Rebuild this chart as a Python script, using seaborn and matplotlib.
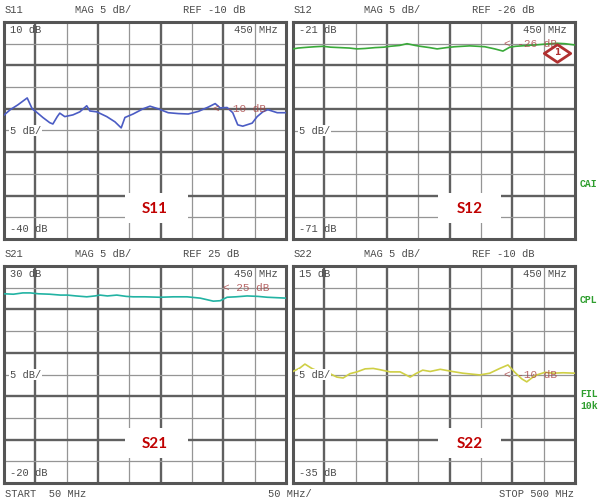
import matplotlib
matplotlib.use('Agg')
import matplotlib.pyplot as plt
import numpy as np
import pandas as pd
import seaborn as sns
from matplotlib.patches import Rectangle
from matplotlib.path import Path

# trace readings, frequency in MHz, level in dB
S11_FREQ = [50, 52, 60, 72, 87, 95, 103, 112, 123, 128, 135, 139, 147, 160, 171, 182, 187, 198,
            214, 227, 237, 243, 256, 272, 283, 296, 312, 328, 344, 360, 376, 387, 395, 406, 415,
            423, 431, 446, 454, 463, 471, 486, 500]
S11_DB = [-11.5, -11.2, -10.2, -9.1, -7.5, -10.0, -10.9, -12.0, -13.2, -13.5, -11.8, -11.0, -11.8,
          -11.4, -10.7, -9.3, -10.5, -10.7, -11.8, -13.0, -14.4, -12.0, -11.2, -10.0, -9.4, -10.0,
          -10.9, -11.1, -11.2, -10.6, -9.6, -8.8, -9.8, -9.7, -10.9, -13.7, -14.0, -13.3, -11.8,
          -10.7, -10.2, -10.9, -10.9]

S12_FREQ = [50, 58, 66, 75, 85, 98, 110, 125, 140, 152, 165, 181, 195, 205, 220, 232, 245, 253,
            268, 280, 295, 308, 320, 332, 345, 356, 372, 385, 396, 405, 415, 425, 436, 452, 471,
            484, 500]
S12_DB = [-27.2, -27.0, -26.9, -26.8, -26.7, -26.6, -26.8, -26.9, -27.0, -27.2, -27.1, -26.9,
          -26.8, -26.6, -26.4, -26.0, -26.4, -26.6, -26.9, -27.2, -26.9, -26.7, -26.6, -26.5,
          -26.6, -26.7, -27.2, -27.7, -26.8, -26.6, -26.5, -26.4, -26.3, -26.1, -25.9, -26.0,
          -26.3]

S21_FREQ = [50, 65, 80, 92, 105, 123, 140, 151, 165, 182, 195, 203, 215, 230, 245, 256, 275, 299,
            320, 342, 363, 375, 384, 395, 406, 420, 438, 455, 470, 485, 500]
S21_DB = [23.6, 23.5, 23.8, 23.8, 23.6, 23.5, 23.3, 23.3, 23.1, 22.9, 23.1, 23.3, 23.1, 23.3, 23.0,
          22.9, 22.9, 22.8, 22.9, 22.9, 22.6, 22.2, 21.9, 22.0, 22.8, 22.9, 23.1, 23.0, 22.8, 22.7,
          22.6]

S22_FREQ = [50, 61, 69, 80, 93, 109, 120, 130, 141, 152, 165, 178, 189, 205, 221, 237, 246, 257,
            269, 285, 304, 321, 348, 364, 380, 393, 404, 415, 423, 431, 439, 452, 465, 481, 500]
S22_DB = [-9.3, -8.5, -7.6, -8.6, -9.4, -9.8, -10.6, -10.8, -9.8, -9.4, -8.7, -8.6, -8.9, -9.4,
          -9.4, -10.6, -9.8, -9.0, -9.3, -8.8, -9.3, -9.7, -10.1, -9.7, -8.6, -7.8, -9.5, -11.0,
          -11.7, -10.8, -10.1, -9.5, -9.7, -9.6, -9.7]

MARKER_FREQ = 471
MARKER_DB = -28.1

PANELS = [
    dict(name='S11', top=10, ref=-10, freq=S11_FREQ, db=S11_DB, color='#4b5cc4',
         rect=(4, 22), box=(0.43, 0.074), lab=(0.535, 0.14), refx=0.74),
    dict(name='S12', top=-21, ref=-26, freq=S12_FREQ, db=S12_DB, color='#3aaa3a',
         rect=(293, 22), box=(0.514, 0.074), lab=(0.628, 0.14), refx=0.75),
    dict(name='S21', top=30, ref=25, freq=S21_FREQ, db=S21_DB, color='#22b3a3',
         rect=(4, 266), box=(0.43, 0.115), lab=(0.535, 0.18), refx=0.775),
    dict(name='S22', top=15, ref=-10, freq=S22_FREQ, db=S22_DB, color='#cfcf45',
         rect=(293, 266), box=(0.514, 0.115), lab=(0.628, 0.18), refx=0.75),
]

W, H = 604, 504
MONO = 'Liberation Mono'
GREY = '#4a4a4a'
REFC = '#a84444'

sns.set_style('white')
plt.rcParams['font.family'] = ['DejaVu Sans']

fig = plt.figure(figsize=(W / 100, H / 100), dpi=100)
fig.patch.set_facecolor('white')

for p in PANELS:
    x0, y0 = p['rect']
    ax = fig.add_axes([x0 / W, 1 - (y0 + 217) / H, 282 / W, 217 / H])
    lo = p['top'] - 50
    ax.set_xlim(50, 500)
    ax.set_ylim(lo, p['top'])
    ax.set_xticks([])
    ax.set_yticks([])
    for s in ax.spines.values():
        s.set_color('#555555')
        s.set_linewidth(2.2)

    # graticule, every other line drawn heavier
    for i, f in enumerate(np.arange(100, 500, 50)):
        heavy = i % 2 == 0
        ax.axvline(f, color='#606060' if heavy else '#959595', lw=1.7 if heavy else 0.9, zorder=1)
    for i, v in enumerate(np.arange(p['top'] - 5, lo, -5)):
        heavy = i % 2 == 1
        ax.axhline(v, color='#606060' if heavy else '#959595', lw=1.7 if heavy else 0.9, zorder=1)

    df = pd.DataFrame({'freq': p['freq'], 'db': p['db']})
    sns.lineplot(data=df, x='freq', y='db', ax=ax, color=p['color'], lw=1.2, zorder=4)
    ax.set_xlabel('')
    ax.set_ylabel('')

    # label box
    bx, by = p['box']
    ax.add_patch(Rectangle((bx, by), 0.222, 0.14, transform=ax.transAxes,
                           facecolor='white', edgecolor='none', zorder=3))
    ax.text(p['lab'][0], p['lab'][1], p['name'], transform=ax.transAxes, ha='center',
            va='center', fontsize=11, fontweight='bold', family='Lato', color='#c00000', zorder=5)

    ax.text(0.022, 0.963, f"{p['top']} dB", transform=ax.transAxes, fontsize=7.5,
            family=MONO, color=GREY, va='center', zorder=5)
    ax.text(0.022, 0.045, f"{lo} dB", transform=ax.transAxes, fontsize=7.5,
            family=MONO, color=GREY, va='center', zorder=5)
    ax.text(0.97, 0.963, '450 MHz', transform=ax.transAxes, fontsize=7.5, ha='right',
            family=MONO, color=GREY, va='center', zorder=5)
    ax.text(0.022, 0.5, '5 dB/', transform=ax.transAxes, fontsize=7.5, family=MONO,
            color=GREY, va='center', zorder=5,
            bbox=dict(facecolor='white', edgecolor='none', pad=0.5))
    ax.text(p['refx'], p['ref'], f"< {p['ref']} dB", transform=ax.get_yaxis_transform(),
            fontsize=8, family=MONO, color=REFC, alpha=0.8, va='center', zorder=5)

    # header line
    hy = 1 - (y0 - 12) / H
    fig.text((x0 + 1) / W, hy, p['name'], fontsize=7.5, family=MONO, color=GREY, va='center')
    fig.text((x0 + 71) / W, hy, 'MAG 5 dB/', fontsize=7.5, family=MONO, color=GREY, va='center')
    fig.text((x0 + 179) / W, hy, f"REF {p['ref']} dB", fontsize=7.5, family=MONO,
             color=GREY, va='center')

    if p['name'] == 'S12':
        diamond = Path([(-1.5, 0), (0, 1), (1.5, 0), (0, -1), (-1.5, 0)],
                       [Path.MOVETO, Path.LINETO, Path.LINETO, Path.LINETO, Path.CLOSEPOLY])
        ax.plot([MARKER_FREQ], [MARKER_DB], marker=diamond, ms=19, mfc='none',
                mec='#b03030', mew=2.0, zorder=6)
        ax.text(MARKER_FREQ, MARKER_DB, '1', ha='center', va='center', fontsize=6.5,
                fontweight='bold', color='#b03030', zorder=6)

# footer and side annotations
fig.text(5 / W, 1 - 494 / H, 'START  50 MHz', fontsize=7.5, family=MONO, color=GREY, va='center')
fig.text(290 / W, 1 - 494 / H, '50 MHz/', fontsize=7.5, family=MONO, color=GREY,
         va='center', ha='center')
fig.text(574 / W, 1 - 494 / H, 'STOP 500 MHz', fontsize=7.5, family=MONO, color=GREY,
         va='center', ha='right')
GREEN = '#2e9e2e'
for txt, yy in [('CAI', 184), ('CPL', 300), ('FIL', 394), ('10k', 406)]:
    fig.text(580 / W, 1 - yy / H, txt, fontsize=7, family=MONO, color=GREEN,
             fontweight='bold', va='center')

fig.savefig('out.png', dpi=100)
